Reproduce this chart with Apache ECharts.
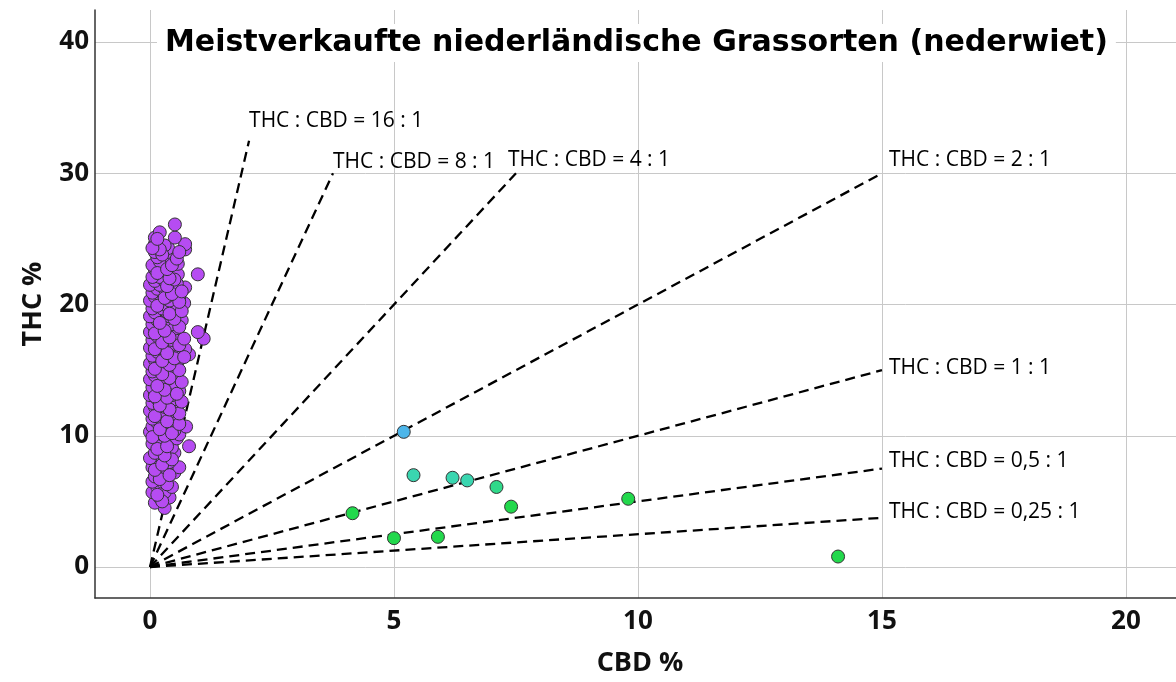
<!DOCTYPE html>
<html>
<head>
<meta charset="utf-8">
<script src="https://cdn.jsdelivr.net/npm/echarts@6/dist/echarts.min.js"></script>
<style>
html,body{margin:0;padding:0;background:#fff;}
#chart{width:1176px;height:682px;}
</style>
</head>
<body>
<div id="chart"></div>
<script>
const titleText = 'Meistverkaufte niederländische Grassorten (nederwiet)';
const xName = 'CBD %';
const yName = 'THC %';
const xTicks = [0, 5, 10, 15, 20];
const yTicks = [0, 10, 20, 30, 40];

// [CBD %, THC %]
const purpleData = [
  [0.3,4.5],[0.1,4.9],[0.2,5.3],[0.4,5.3],[0.05,5.7],[0.3,5.7],[0.15,6.1],[0.45,6.1],
  [0.25,6.5],[0.05,6.5],[0.35,6.9],[0.1,6.9],[0.2,7.2],[0.5,7.2],[0.05,7.6],[0.3,7.6],[0.6,7.6],
  [0.15,8.0],[0.4,8.0],[0.25,8.3],[0.0,8.3],[0.1,8.7],[0.35,8.7],[0.5,8.7],
  [0.2,9.1],[0.45,9.1],[0.8,9.2],[0.05,9.4],[0.3,9.4],[0.15,9.8],[0.4,9.8],[0.55,9.8],
  [0.25,10.1],[0.0,10.3],[0.6,10.1],[0.1,10.4],[0.35,10.4],[0.5,10.4],
  [0.2,10.7],[0.45,10.7],[0.74,10.7],[0.05,10.7],[0.3,11.0],[0.15,11.0],[0.55,11.0],
  [0.05,11.3],[0.4,11.3],[0.25,11.3],[0.15,11.6],[0.35,11.6],[0.5,11.6],
  [0.0,11.9],[0.25,11.9],[0.45,11.9],[0.1,12.2],[0.3,12.2],[0.55,12.2],
  [0.2,12.5],[0.4,12.5],[0.05,12.5],[0.15,12.8],[0.3,12.8],[0.5,12.8],
  [0.0,13.1],[0.25,13.1],[0.45,13.1],[0.1,13.3],[0.2,13.4],[0.35,13.4],[0.6,13.4],
  [0.05,13.7],[0.3,13.7],[0.45,13.7],[0.15,14.0],[0.25,14.0],[0.5,14.0],
  [0.0,14.3],[0.35,14.3],[0.2,14.3],[0.1,14.6],[0.4,14.6],[0.55,14.6],
  [0.25,14.9],[0.05,14.9],[0.35,14.9],[0.15,15.2],[0.45,15.2],[0.3,15.2],
  [0.0,15.5],[0.2,15.5],[0.5,15.5],[0.1,15.8],[0.35,15.8],[0.6,15.8],
  [0.25,16.1],[0.05,16.1],[0.45,16.1],[0.8,16.2],[0.15,16.4],[0.3,16.4],[0.55,16.4],
  [0.0,16.7],[0.2,16.7],[0.4,16.7],[0.72,16.6],[0.1,17.0],[0.35,17.0],[0.5,17.0],
  [0.25,17.3],[0.05,17.3],[0.45,17.3],[1.1,17.4],[0.15,17.6],[0.3,17.6],[0.6,17.6],
  [0.0,17.9],[0.2,17.9],[0.4,17.9],[0.98,17.9],[0.1,18.2],[0.35,18.2],[0.55,18.2],
  [0.25,18.5],[0.05,18.5],[0.45,18.5],[0.15,18.8],[0.3,18.8],[0.65,18.8],
  [0.0,19.1],[0.2,19.1],[0.4,19.1],[0.5,19.2],[0.1,19.4],[0.35,19.4],[0.55,19.4],
  [0.25,19.7],[0.05,19.7],[0.45,19.7],[0.15,20.0],[0.3,20.0],[0.7,20.1],[0.5,20.0],
  [0.0,20.3],[0.2,20.3],[0.4,20.3],[0.1,20.6],[0.35,20.6],[0.6,20.6],
  [0.25,20.9],[0.05,20.9],[0.5,20.9],[0.15,21.2],[0.3,21.2],[0.72,21.3],
  [0.0,21.5],[0.2,21.5],[0.45,21.5],[0.55,21.6],[0.1,21.8],[0.3,21.8],
  [0.2,22.1],[0.05,22.1],[0.45,22.5],[0.57,22.3],[0.98,22.3],[0.25,22.6],
  [0.1,22.7],[0.3,22.9],[0.05,23.0],[0.57,23.1],[0.2,23.3],[0.45,23.3],
  [0.15,23.6],[0.1,24.0],[0.35,24.0],[0.37,24.3],[0.72,24.2],
  [0.1,24.6],[0.3,24.5],[0.72,24.6],[0.1,25.1],[0.51,25.1],[0.2,25.5],[0.51,26.1],
  [0.25,5.0],[0.15,5.5],[0.35,6.3],[0.2,6.7],[0.4,7.0],[0.1,7.4],[0.25,7.8],[0.45,8.2],
  [0.3,8.5],[0.15,9.0],[0.35,9.2],[0.05,9.9],[0.3,10.0],[0.45,10.2],[0.2,10.5],[0.6,10.9],
  [0.35,11.1],[0.1,11.5],[0.6,11.7],[0.4,12.0],[0.2,12.3],[0.65,12.6],[0.35,12.9],[0.1,13.0],
  [0.55,13.2],[0.3,13.5],[0.15,13.8],[0.65,14.1],[0.4,14.4],[0.25,14.7],[0.6,15.0],[0.1,15.1],
  [0.4,15.4],[0.25,15.7],[0.5,15.9],[0.7,16.0],[0.35,16.3],[0.1,16.6],[0.6,16.9],[0.25,17.1],
  [0.4,17.5],[0.7,17.4],[0.1,17.8],[0.3,18.0],[0.6,18.3],[0.2,18.6],[0.5,18.9],[0.4,19.3],
  [0.65,19.5],[0.15,19.9],[0.6,20.2],[0.3,20.5],[0.45,20.8],[0.65,21.0],[0.35,21.4],[0.5,21.9],
  [0.4,22.0],[0.15,22.4],[0.35,22.7],[0.45,23.0],[0.25,23.8],[0.55,23.5],[0.2,24.2],[0.05,24.3],
  [0.15,25.0],[0.6,24.0]
];
const blueData = [[5.2,10.3]];
const tealData = [[5.4,7.0],[6.2,6.8],[6.5,6.6]];
const seaGreenData = [[7.1,6.1]];
const greenData = [[7.4,4.6],[4.15,4.1],[5.0,2.2],[5.9,2.3],[9.8,5.2],[14.1,0.8]];

// reference lines THC:CBD
const refLabels = ['THC : CBD = 16 : 1','THC : CBD = 8 : 1','THC : CBD = 4 : 1','THC : CBD = 2 : 1','THC : CBD = 1 : 1','THC : CBD = 0,5 : 1','THC : CBD = 0,25 : 1'];
const refRatios = [16, 8, 4, 2, 1, 0.5, 0.25];
const refEndCBD = [2.03, 3.75, 7.5, 15, 15, 15, 15];
const refLabelOffsets = [[0,-20],[0,-11],[-8,-13],[7,-13],[7,-2],[7,-8],[7,-6]];

const chart = echarts.init(document.getElementById('chart'));

const refSeries = refRatios.map((r, i) => ({
  type: 'line',
  name: refLabels[i],
  data: [[0,0],[refEndCBD[i], refEndCBD[i]*r]],
  showSymbol: false,
  symbol: 'none',
  silent: true,
  z: 2,
  lineStyle: {color: '#000', width: 2.3, type: [10,6]},
  endLabel: {
    show: true,
    formatter: refLabels[i],
    distance: 0,
    offset: refLabelOffsets[i],
    align: 'left',
    verticalAlign: 'middle',
    fontFamily: 'Open Sans',
    fontSize: 21,
    color: '#000'
  },
  animation: false
}));

function pts(data, color) {
  return {
    type: 'scatter',
    data: data,
    symbolSize: 13,
    z: 5,
    itemStyle: {color: color, opacity: 1, borderColor: '#333', borderWidth: 1},
    animation: false
  };
}

const option = {
  backgroundColor: '#fff',
  animation: false,
  title: {
    text: titleText,
    left: 157,
    top: 24,
    padding: [4, 8],
    backgroundColor: '#fff',
    textStyle: {fontFamily: 'DejaVu Sans', fontWeight: 'bold', fontSize: 30, color: '#000'},
    z: 10
  },
  grid: {left: 95, right: 0, top: 10, bottom: 84},
  xAxis: {
    type: 'value',
    min: -1.127,
    max: 21.025,
    name: xName,
    nameLocation: 'middle',
    nameGap: 52,
    nameTextStyle: {fontFamily: 'Open Sans', fontWeight: 'bold', fontSize: 27, color: '#111', padding: [0,0,0,9]},
    axisLine: {onZero: false, lineStyle: {color: '#333', width: 1.5}},
    axisTick: {show: false, customValues: xTicks},
    axisLabel: {customValues: xTicks, margin: 11, fontFamily: 'Open Sans', fontWeight: 'bold', fontSize: 26, color: '#111'},
    splitLine: {show: true, lineStyle: {color: '#c8c8c8', width: 1}}
  },
  yAxis: {
    type: 'value',
    min: -2.36,
    max: 42.44,
    name: yName,
    nameLocation: 'middle',
    nameGap: 48,
    nameTextStyle: {fontFamily: 'Open Sans', fontWeight: 'bold', fontSize: 27, color: '#111'},
    axisLine: {onZero: false, lineStyle: {color: '#333', width: 1.5}},
    axisTick: {show: false, customValues: yTicks},
    axisLabel: {customValues: yTicks, margin: 6, fontFamily: 'Open Sans', fontWeight: 'bold', fontSize: 26, color: '#111'},
    splitLine: {show: true, lineStyle: {color: '#c8c8c8', width: 1}}
  },
  series: refSeries.concat([
    pts(purpleData, '#B64CF2'),
    pts(blueData, '#4DB6EA'),
    pts(tealData, '#3AD6B0'),
    pts(seaGreenData, '#30D98A'),
    pts(greenData, '#22D84C')
  ])
};
chart.setOption(option);
</script>
</body>
</html>
